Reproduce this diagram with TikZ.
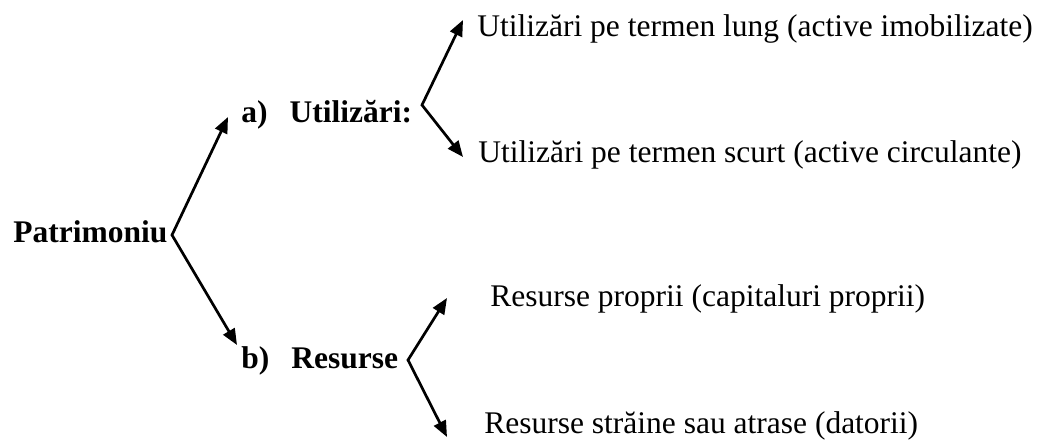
\documentclass[tikz,border=0pt]{standalone}
\usepackage{fontspec}
\setmainfont{Liberation Serif}
\usetikzlibrary{arrows.meta}

\begin{document}
\begin{tikzpicture}[x=1pt, y=-1pt, >={Triangle[length=16pt,width=13pt]}, line width=2.7pt,
  txt/.style={anchor=base west, inner sep=0pt, font=\fontsize{31.5}{36}\selectfont},
  bold/.style={txt, font=\fontsize{31.5}{36}\selectfont\bfseries}]
\useasboundingbox (0,0) rectangle (1041,440);

\node[bold] (patr) at (12,242) {Patrimoniu};
\node[bold] (util) at (240,122) {a)\hspace{22pt}Utilizări:};
\node[bold] (res) at (240,368) {b)\hspace{22pt}Resurse};

\node[txt] (lung) at (476,36) {Utilizări pe termen lung (active imobilizate)};
\node[txt] (scurt) at (477,162) {Utilizări pe termen scurt (active circulante)};
\node[txt] (propr) at (489,306) {Resurse proprii (capitaluri proprii)};
\node[txt] (strain) at (483,433) {Resurse străine sau atrase (datorii)};

\coordinate (pv) at (172,235);
\coordinate (pa) at (228,117);
\coordinate (pb) at (237,345);
\coordinate (uv) at (422,105);
\coordinate (ul) at (463,20);
\coordinate (us) at (463,157);
\coordinate (rv) at (408,360);
\coordinate (rp) at (447,298);
\coordinate (rs) at (447,437);

\draw[<->] (pa) -- (pv) -- (pb);
\draw[<->] (ul) -- (uv) -- (us);
\draw[<->] (rp) -- (rv) -- (rs);
\end{tikzpicture}
\end{document}
